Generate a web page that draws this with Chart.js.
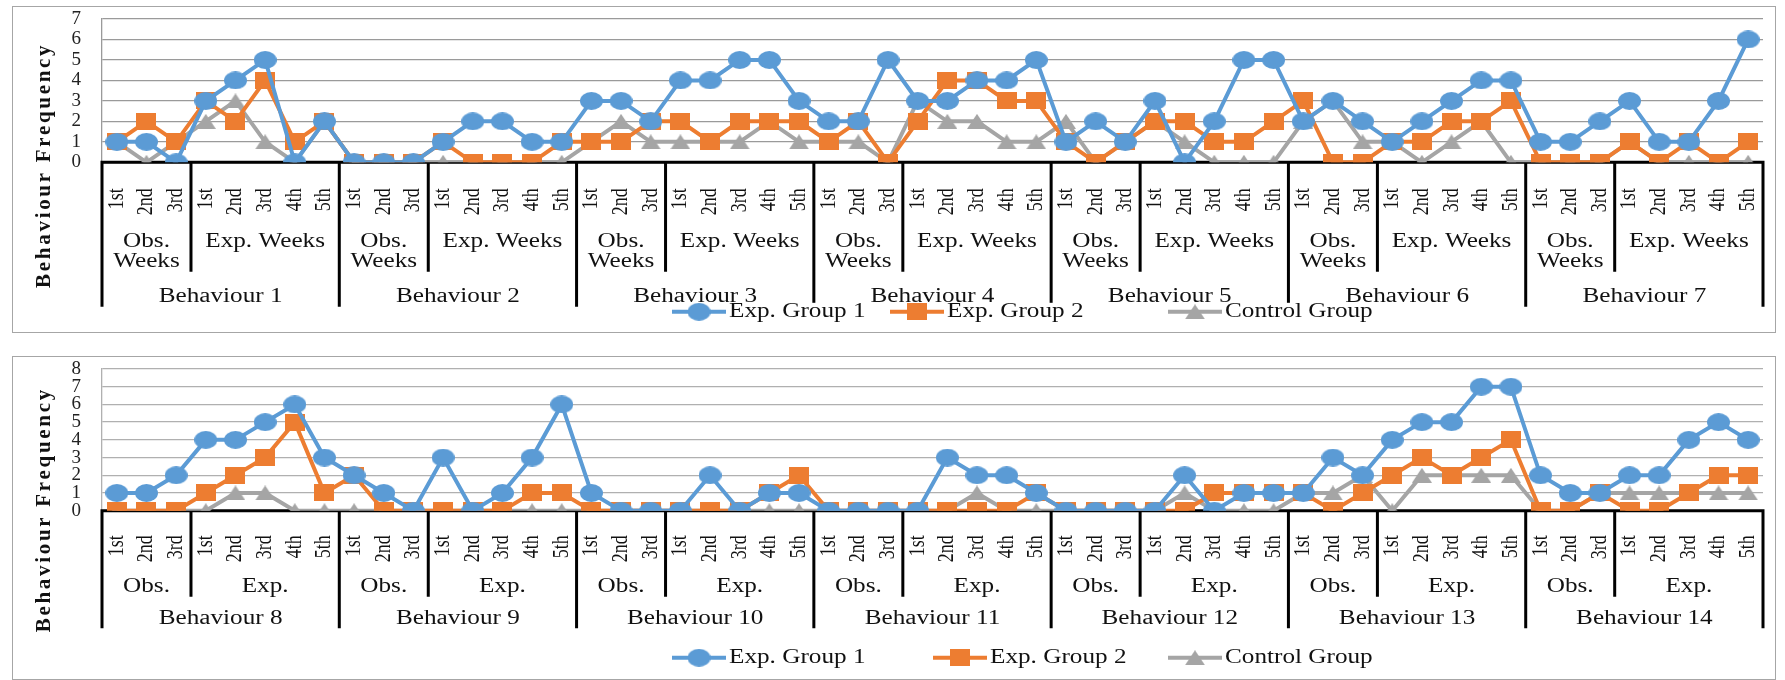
<!DOCTYPE html>
<html>
<head>
<meta charset="utf-8">
<script src="https://cdn.jsdelivr.net/npm/chart.js@4.4.1/dist/chart.umd.min.js"></script>
<style>
  html, body { margin: 0; padding: 0; background: #fff; width: 1785px; height: 680px; overflow: hidden; }
  .panel { position: absolute; border: 1px solid #a6a6a6; box-sizing: border-box; background: #fff; }
  canvas { display: block; }
</style>
</head>
<body>
<div class="panel" style="left:12px; top:6px; width:1764px; height:327px;">
  <canvas id="chartTop" width="1762" height="325"></canvas>
</div>
<div class="panel" style="left:12px; top:356px; width:1764px; height:324px;">
  <canvas id="chartBottom" width="1762" height="322"></canvas>
</div>
<script>
// ---- categories ----
const weekLabels = ['1st', '2nd', '3rd', '1st', '2nd', '3rd', '4th', '5th'];
const phaseSizes = [3, 5];
const phaseLabelsTop = [['Obs.', 'Weeks'], ['Exp. Weeks']];
const phaseLabelsBottom = [['Obs.'], ['Exp.']];
const behavioursTop = ['Behaviour 1', 'Behaviour 2', 'Behaviour 3', 'Behaviour 4', 'Behaviour 5', 'Behaviour 6', 'Behaviour 7'];
const behavioursBottom = ['Behaviour 8', 'Behaviour 9', 'Behaviour 10', 'Behaviour 11', 'Behaviour 12', 'Behaviour 13', 'Behaviour 14'];
const seriesNames = ['Exp. Group 1', 'Exp. Group 2', 'Control Group'];
const yTitle = 'Behaviour Frequency';

// ---- series values (behaviours 1-7) ----
const expGroup1Top = [1,1,0,3,4,5,0,2, 0,0,0,1,2,2,1,1, 3,3,2,4,4,5,5,3, 2,2,5,3,3,4,4,5, 1,2,1,3,0,2,5,5, 2,3,2,1,2,3,4,4, 1,1,2,3,1,1,3,6];
const expGroup2Top = [1,2,1,3,2,4,1,2, 0,0,0,1,0,0,0,1, 1,1,2,2,1,2,2,2, 1,2,0,2,4,4,3,3, 1,0,1,2,2,1,1,2, 3,0,0,1,1,2,2,3, 0,0,0,1,0,1,0,1];
const controlTop   = [1,0,1,2,3,1,0,2, 0,0,0,0,0,0,0,0, 1,2,1,1,1,1,2,1, 1,1,0,3,2,2,1,1, 2,0,1,2,1,0,0,0, 2,3,1,1,0,1,2,0, 0,0,0,1,0,0,0,0];

// ---- series values (behaviours 8-14) ----
const expGroup1Bottom = [1,1,2,4,4,5,6,3, 2,1,0,3,0,1,3,6, 1,0,0,0,2,0,1,1, 0,0,0,0,3,2,2,1, 0,0,0,0,2,0,1,1, 1,3,2,4,5,5,7,7, 2,1,1,2,2,4,5,4];
const expGroup2Bottom = [0,0,0,1,2,3,5,1, 2,0,0,0,0,0,1,1, 0,0,0,0,0,0,1,2, 0,0,0,0,0,0,0,1, 0,0,0,0,0,1,1,1, 1,0,1,2,3,2,3,4, 0,0,1,0,0,1,2,2];
const controlBottom   = [0,0,0,0,1,1,0,0, 0,0,0,0,0,0,0,0, 0,0,0,0,0,0,0,0, 0,0,0,0,0,1,0,0, 0,0,0,0,1,0,0,0, 1,1,2,0,2,2,2,2, 0,0,1,1,1,1,1,1];

const COLORS = ['#5b9bd5', '#ed7d31', '#a5a5a5'];
const SERIF = '"Liberation Serif", "Times New Roman", serif';
const STRETCH = 1.26;

function marker(kind, color, w, h) {
  const c = document.createElement('canvas');
  c.width = w; c.height = h;
  const g = c.getContext('2d');
  g.fillStyle = color;
  g.beginPath();
  if (kind === 'ellipse') g.ellipse(w / 2, h / 2, w / 2, h / 2, 0, 0, Math.PI * 2);
  else if (kind === 'rect') g.rect(0, 0, w, h);
  else { g.moveTo(w / 2, 0); g.lineTo(w, h); g.lineTo(0, h); g.closePath(); }
  g.fill();
  return c;
}
const markers = [
  marker('ellipse', COLORS[0], 23, 18),
  marker('rect', COLORS[1], 20, 17),
  marker('triangle', COLORS[2], 20, 15)
];

function drawText(ctx, str, x, y, align) {
  ctx.save();
  ctx.translate(x, y);
  ctx.scale(STRETCH, 1);
  ctx.textAlign = align;
  ctx.textBaseline = 'middle';
  ctx.fillText(str, 0, 0);
  ctx.restore();
}

// Three-level category axis (week / phase / behaviour), legend and axis title.
const multiLevelAxis = {
  id: 'multiLevelAxis',
  beforeDatasetsDraw(chart, args, o) {
    const { ctx, chartArea: ca, scales: { x } } = chart;
    const n = chart.data.labels.length;
    const per = phaseSizes.reduce((a, b) => a + b, 0);
    const edge = k => k <= 0 ? ca.left : k >= n ? ca.right : (x.getPixelForValue(k - 1) + x.getPixelForValue(k)) / 2;
    ctx.save();
    ctx.strokeStyle = '#000';
    ctx.lineWidth = 3;
    ctx.beginPath();
    ctx.moveTo(ca.left - 1.5, ca.bottom);
    ctx.lineTo(ca.right + 1.5, ca.bottom);
    for (let b = 0; b <= o.behaviours.length; b++) {
      const xb = edge(b * per);
      ctx.moveTo(xb, ca.bottom);
      ctx.lineTo(xb, ca.bottom + o.outerEnd);
      if (b === o.behaviours.length) break;
      let k = b * per;
      for (let p = 0; p < phaseSizes.length - 1; p++) {
        k += phaseSizes[p];
        const xp = edge(k);
        ctx.moveTo(xp, ca.bottom);
        ctx.lineTo(xp, ca.bottom + o.innerEnd);
      }
    }
    ctx.stroke();
    ctx.restore();
  },
  afterDraw(chart, args, o) {
    const { ctx, chartArea: ca, scales: { x } } = chart;
    const per = phaseSizes.reduce((a, b) => a + b, 0);
    const px = i => x.getPixelForValue(i);
    ctx.save();
    ctx.fillStyle = '#111';

    // week labels, rotated, ending just under the axis
    ctx.font = '18px ' + SERIF;
    chart.data.labels.forEach((lbl, i) => {
      ctx.save();
      ctx.translate(px(i), ca.bottom + o.weekTop);
      ctx.scale(STRETCH, 1);
      ctx.rotate(-Math.PI / 2);
      ctx.textAlign = 'right';
      ctx.textBaseline = 'middle';
      ctx.fillText(lbl, 0, 0);
      ctx.restore();
    });

    // phase and behaviour labels
    ctx.font = '20px ' + SERIF;
    o.behaviours.forEach((name, b) => {
      let k = b * per;
      o.phases.forEach((lines, p) => {
        const cx = (px(k) + px(k + phaseSizes[p] - 1)) / 2;
        lines.forEach((ln, j) => drawText(ctx, ln, cx, ca.bottom + o.phaseY[j], 'center'));
        k += phaseSizes[p];
      });
      const bx = (px(b * per) + px(b * per + per - 1)) / 2;
      drawText(ctx, name, bx, ca.bottom + o.behY, 'center');
    });

    // legend
    const ly = ca.bottom + o.legendY;
    ctx.fillStyle = '#fff';
    ctx.fillRect(o.legendX[0] - 6, ly - 9, o.legendX[2] + 225 - o.legendX[0], 19);
    ctx.font = '20px ' + SERIF;
    chart.data.datasets.forEach((ds, i) => {
      const x0 = o.legendX[i];
      ctx.strokeStyle = ds.borderColor;
      ctx.lineWidth = 4;
      ctx.beginPath();
      ctx.moveTo(x0, ly);
      ctx.lineTo(x0 + 54, ly);
      ctx.stroke();
      const m = ds.pointStyle;
      ctx.drawImage(m, x0 + 27 - m.width / 2, ly - m.height / 2);
      ctx.fillStyle = '#111';
      drawText(ctx, ds.label, x0 + 57, ly, 'left');
    });

    // y axis title
    ctx.save();
    ctx.translate(o.titleX, ca.bottom + o.titleY);
    ctx.rotate(-Math.PI / 2);
    ctx.font = 'bold 21px ' + SERIF;
    ctx.letterSpacing = '2.7px';
    ctx.textAlign = 'center';
    ctx.textBaseline = 'middle';
    ctx.fillStyle = '#111';
    ctx.fillText(yTitle, 0, 0);
    ctx.restore();

    ctx.restore();
  }
};

function buildChart(id, behaviours, phases, series, yMax, geo) {
  const labels = [];
  behaviours.forEach(() => weekLabels.forEach(w => labels.push(w)));
  const canvas = document.getElementById(id);
  return new Chart(canvas, {
    type: 'line',
    data: {
      labels,
      datasets: series.map((vals, i) => ({
        label: seriesNames[i],
        data: vals,
        borderColor: COLORS[i],
        backgroundColor: COLORS[i],
        borderWidth: 4,
        pointStyle: markers[i],
        pointRadius: 8,
        pointHoverRadius: 8,
        tension: 0,
        fill: false
      }))
    },
    options: {
      responsive: false,
      animation: false,
      devicePixelRatio: 1,
      events: [],
      layout: { padding: { left: 0, right: geo.right, top: geo.top, bottom: 0 } },
      plugins: {
        legend: { display: false },
        tooltip: { enabled: false },
        multiLevelAxis: Object.assign({ behaviours, phases }, geo.axis)
      },
      scales: {
        x: {
          type: 'category',
          offset: true,
          grid: { display: false, drawTicks: false },
          border: { display: false },
          ticks: { display: false },
          afterFit(s) { s.height = canvas.height - geo.bottom; s.paddingLeft = 0; s.paddingRight = 0; }
        },
        y: {
          min: 0,
          max: yMax,
          ticks: { stepSize: 1, autoSkip: false, padding: 21, color: '#222', font: { family: SERIF, size: 19 } },
          grid: { color: geo.gridColor, lineWidth: 1.3, drawTicks: false },
          border: { display: true, color: geo.gridColor, width: 1.3 },
          afterFit(s) { s.width = 89; s.paddingTop = 0; s.paddingBottom = 0; }
        }
      }
    },
    plugins: [multiLevelAxis]
  });
}

buildChart('chartTop', behavioursTop, phaseLabelsTop, [expGroup1Top, expGroup2Top, controlTop], 7, {
  top: 10.3, right: 6, bottom: 155.3, gridColor: '#9a9a9a',
  axis: { weekTop: 26, phaseY: [79, 99.5], innerEnd: 109.5, behY: 134, outerEnd: 144.5, legendY: 149.5,
          legendX: [659, 877, 1155], titleX: 32, titleY: 3 }
});

buildChart('chartBottom', behavioursBottom, phaseLabelsBottom, [expGroup1Bottom, expGroup2Bottom, controlBottom], 8, {
  top: 10.3, right: 6, bottom: 153.7, gridColor: '#b0b0b0',
  axis: { weekTop: 24.5, phaseY: [76], innerEnd: 86, behY: 108.5, outerEnd: 117.5, legendY: 147,
          legendX: [659, 920, 1155], titleX: 32, titleY: -1 }
});
</script>
</body>
</html>
